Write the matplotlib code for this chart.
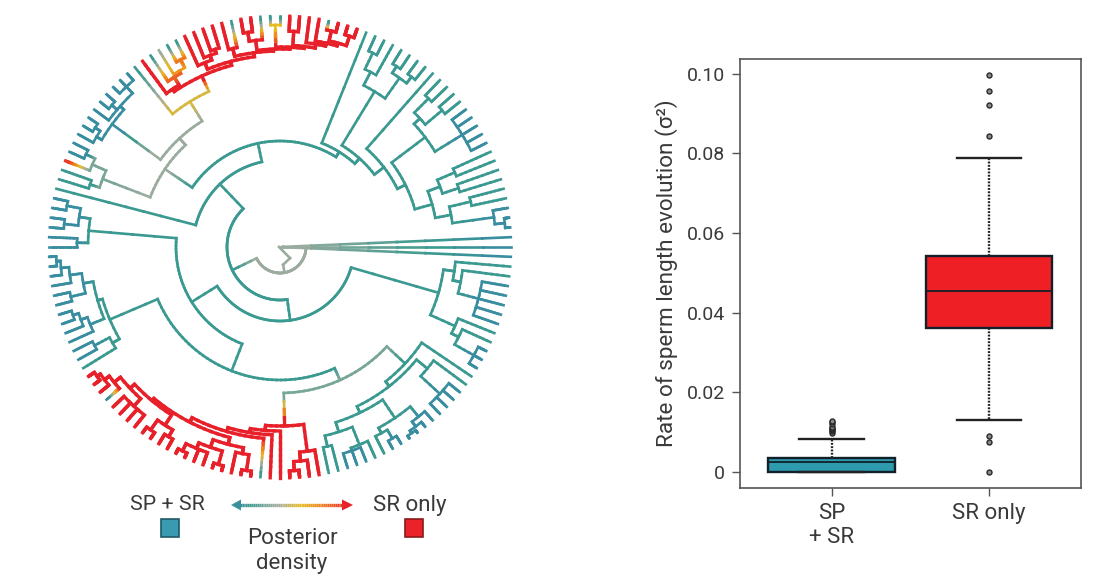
import numpy as np
import matplotlib
matplotlib.use('Agg')
import matplotlib.pyplot as plt
from matplotlib.collections import LineCollection
from matplotlib.colors import LinearSegmentedColormap
from matplotlib.patches import Rectangle, Polygon

plt.rcParams['font.family'] = ['Roboto', 'DejaVu Sans']

# colour values along the posterior scale (0 = SP + SR, 1 = SR only)
B, T, G, Y, O, R = 0.04, 0.14, 0.38, 0.6, 0.8, 1.0
TIP_RADIUS = 231

post_cmap = LinearSegmentedColormap.from_list('post', [
    (0.0, '#3789a6'), (0.15, '#3a9a8e'), (0.4, '#a3aea0'),
    (0.6, '#e8bb20'), (0.8, '#ef7a1e'), (1.0, '#e8202a')])

# --- TREE: node = (radius, colour value, children), tip = colour value ---
# children always listed clockwise
bundle = (3, G, [B, B, B])

right_a = (176, T, [T, (184, T, [T, (205, B, [B, B, B, B, B])])])
right_b = (192, T, [T, (200, T, [T, (222, B, [B, B, B])])])
right_clade = (165, T, [right_a, right_b])

low_a = (191, T, [T, (217, B, [B, B, B, B])])
low_b = (206, T, [(219, B, [B, (225, B, [B, (228, B, [B, B])])]),
                  (212, T, [(222, B, [B, B]), T])])
low_c = (194, T, [(213, T, [T, (216, B, [B, B, B])]), (205, T, [T, T])])

red_first = (206, R, [R, (215, R, [R, (224, R, [R, R])])])
red_g1 = (204, R, [(210, R, [(226, R, [R, R]), R]),
                   (212, R, [(226, R, [R, R]), (218, R, [R, R, (226, R, [R, R])])])])
red_g2 = (200, R, [(212, R, [(220, R, [R, R]), (224, R, [R, R])]),
                   (206, R, [(216, R, [R, R, R, R]),
                             (214, R, [B, (220, R, [R, (224, R, [R, R])])])])])
red_low = (179, R, [red_first,
                    (184, R, [R, (188, R, [R, (192, R, [T, (197, R, [red_g1, red_g2])])])])])

low_split = (146, 0.3, [(171, T, [T, (177, T, [low_a, (184, T, [low_b, low_c])])]), red_low])

left_low = (185, T, [(193, T, [T, (210, B, [B, B])]),
                     (190, T, [(205, B, [B, (212, B, [B, (218, B, [B, B])])]),
                               (200, B, [(215, B, [B, B]),
                                         (212, B, [B, (220, B, [B, (224, B, [B, B])])])])])])
left_mid = (192, T, [(203, B, [B, B]),
                     (203, B, [(217, B, [B, B]), (217, B, [B, B])])])

left_top = (190, 0.3, [(200, T, [T, T]),
                       (205, 0.3, [0.95, (215, B, [B, B])])])
comb = (208, B, [(214, B, [B, (220, B, [B, B])]),
                 (213, B, [B, (220, B, [B, B]), (222, B, [B, B, B])])])

top_left = (191, R, [R, (200, 0.85, [T, (203, 0.7, [G, (212, O, [T, T])])])])
top_right = (192, R, [
    (199, R, [R, (204, R, [R, (208, R, [R, R])])]),
    (196, R, [(204, R, [R, T]),
              (198, R, [(208, R, [(217, R, [R, R]), T]),
                        (200, R, [(222, Y, [T, T]),
                                  (202, R, [(216, R, [R, R]),
                                            (206, R, [R, (209, R, [R, (212, R, [(222, R, [T, R]),
                                                                                (222, R, [R, R])])])])])])])])])
top_red = (188, R, [top_left, top_right])

upper_right_a = (182, T, [(197, T, [(215, T, [T, T]), T]),
                          (207, T, [(215, T, [T, T]), (215, T, [T, T])])])
upper_right_b = (182, T, [(190, T, [(210, T, [T, T]), (212, T, [T, T])]),
                          (214, B, [B, B, B, B, B])])
upper_right_c = (158, T, [(171, T, [(190, T, [T, T]), (188, T, [T, T])]),
                          (174, T, [(196, T, [T, T]), (216, B, [B, (226, B, [B, B])])])])
ladder = (112, T, [T, (119, T, [upper_right_a,
                                (131, T, [T, (140, T, [upper_right_b, upper_right_c])])])])

grey_node = (139, G, [left_top, (148, G, [comb, (171, Y - 0.05, [T, top_red])])])
ring_top = (87, T, [T, (106, T, [grey_node, ladder])])
ring_low = (74, T, [right_clade,
                    (104, T, [(133, T, [low_split, left_low]), left_mid])])
ring_inner = (53, T, [ring_low, ring_top])

# small grey zigzag and arc at the root
root_r = [1, 15, 18, 26]
root_ang = [178, -48, -80, -80]
root_arc_r = 26
root_arc_span = [-5, -154]

# --- BOXPLOT DATA ---
box_names = ['SP\n+ SR', 'SR only']
box_q1 = [0.0, 0.0361]
box_med = [0.0025, 0.0454]
box_q3 = [0.0034, 0.0542]
box_low = [0.0, 0.0129]
box_high = [0.0082, 0.0788]
box_fliers = [
    [0.0098, 0.0101, 0.0104, 0.0107, 0.011, 0.0113, 0.012, 0.0124, 0.0127],
    [0.0, 0.0074, 0.009, 0.0843, 0.0922, 0.0957, 0.0997]]
y_ticks = [0, 0.02, 0.04, 0.06, 0.08, 0.10]
y_tick_labels = ['0', '0.02', '0.04', '0.06', '0.08', '0.10']
box_colors = ['#2d9bad', '#ee2025']

W, H = 1108, 575
CX, CY = 280, 247
fig = plt.figure(figsize=(W / 100, H / 100), dpi=100)

# tree axes: data units are pixels measured from the tree centre
ax = fig.add_axes([0, 0, 1, 1])
ax.set_xlim(-CX, W - CX)
ax.set_ylim(CY - H, CY)
ax.axis('off')


def count_tips(node):
    if not isinstance(node, tuple):
        return 1
    return sum(count_tips(k) for k in node[2])


n_tips = count_tips(bundle) + count_tips(ring_inner)
step = 360 / n_tips
segs, seg_vals = [], []
tip_no = [0]


def xy(r, deg):
    return r * np.cos(np.radians(deg)), r * np.sin(np.radians(deg))


def add_radial(r0, r1, deg, v0, v1, n=8):
    rr = np.linspace(r0, r1, n + 1)
    vv = np.linspace(v0, v1, n)
    for i in range(n):
        segs.append([xy(rr[i], deg), xy(rr[i + 1], deg)])
        seg_vals.append(vv[i])


def add_arc(r, a0, a1, v):
    aa = np.linspace(a0, a1, max(2, int(abs(a1 - a0) / 2) + 2))
    for i in range(len(aa) - 1):
        segs.append([xy(r, aa[i]), xy(r, aa[i + 1])])
        seg_vals.append(v)


def place(node, parent_r, parent_v):
    if not isinstance(node, tuple):
        deg = step - tip_no[0] * step
        tip_no[0] += 1
        add_radial(parent_r, TIP_RADIUS, deg, parent_v, node)
        return deg
    r, v, kids = node
    angs = [place(k, r, v) for k in kids]
    add_arc(r, angs[0], angs[-1], v)
    deg = (angs[0] + angs[-1]) / 2
    add_radial(parent_r, r, deg, parent_v, v, n=4)
    return deg


place(bundle, 0, G)
place(ring_inner, root_arc_r, G)
add_arc(root_arc_r, root_arc_span[0], root_arc_span[1], G)
for i in range(len(root_r) - 1):
    segs.append([xy(root_r[i], root_ang[i]), xy(root_r[i + 1], root_ang[i + 1])])
    seg_vals.append(G)

# red branches read a little heavier than the teal ones
seg_vals = np.array(seg_vals)
lc = LineCollection(segs, colors=post_cmap(seg_vals), linewidths=1.9 + 0.5 * (seg_vals > 0.7),
                    capstyle='projecting')
ax.add_collection(lc)

# --- LEGEND UNDER THE TREE ---
txt = '#3a3a3a'
ax.text(167 - CX, CY - 505, 'SP + SR', fontsize=15.4, color=txt, ha='center', va='center')
ax.text(410 - CX, CY - 505, 'SR only', fontsize=16, color=txt, ha='center', va='center')
ax.text(292 - CX, CY - 538, 'Posterior', fontsize=16, color=txt, ha='center', va='center')
ax.text(292 - CX, CY - 564, 'density', fontsize=16, color=txt, ha='center', va='center')
ax.add_patch(Rectangle((161 - CX, CY - 537), 18, 18, fc='#3a9ab2', ec='#1f5a66', lw=1.2))
ax.add_patch(Rectangle((405 - CX, CY - 537), 18, 18, fc='#ea2229', ec='#8a1a1a', lw=1.2))

arrow_x = np.linspace(236 - CX, 348 - CX, 60)
arrow_y = CY - 505
ax.add_collection(LineCollection(
    [[(arrow_x[i], arrow_y), (arrow_x[i + 1], arrow_y)] for i in range(59)],
    colors=post_cmap(np.linspace(0.05, 1, 59)), linewidths=2.4))
ax.add_patch(Polygon([(231 - CX, arrow_y), (241 - CX, arrow_y + 5.5), (241 - CX, arrow_y - 5.5)],
                     fc=post_cmap(0.08), ec='none'))
ax.add_patch(Polygon([(353 - CX, arrow_y), (342 - CX, arrow_y + 5.5), (342 - CX, arrow_y - 5.5)],
                     fc=post_cmap(1.0), ec='none'))

# --- BOXPLOT ---
bx = fig.add_axes([740 / W, 1 - 488 / H, 341 / W, 429 / H])
stats = [dict(med=box_med[i], q1=box_q1[i], q3=box_q3[i], whislo=box_low[i], whishi=box_high[i],
              fliers=box_fliers[i]) for i in range(2)]
parts = bx.bxp(stats, positions=[1, 2], widths=0.805, patch_artist=True,
               boxprops=dict(edgecolor='#12202a', linewidth=1.7),
               medianprops=dict(color='#12202a', linewidth=1.3),
               whiskerprops=dict(color='#222222', linewidth=1.7, linestyle=(0, (0.8, 0.6))),
               capprops=dict(color='#222222', linewidth=1.7), capwidths=0.41,
               flierprops=dict(marker='o', markersize=3.6, markerfacecolor='#8a8a8a',
                               markeredgecolor='#2a2a2a', markeredgewidth=1.0))
for patch, col in zip(parts['boxes'], box_colors):
    patch.set_facecolor(col)

bx.set_xlim(0.417, 2.585)
bx.set_ylim(-0.0041, 0.1037)
bx.set_xticks([1, 2])
bx.set_xticklabels(box_names, fontsize=16, color=txt, linespacing=1.2)
bx.set_yticks(y_ticks)
bx.set_yticklabels(y_tick_labels, fontsize=14, color=txt)
bx.tick_params(axis='both', length=6, width=1.0, color='#555555', pad=5)
bx.set_ylabel('Rate of sperm length evolution (σ²)', fontsize=16.2, color=txt, labelpad=6)
for s in bx.spines.values():
    s.set_linewidth(1.2)
    s.set_color('#555555')

fig.savefig('out.png', dpi=100)
